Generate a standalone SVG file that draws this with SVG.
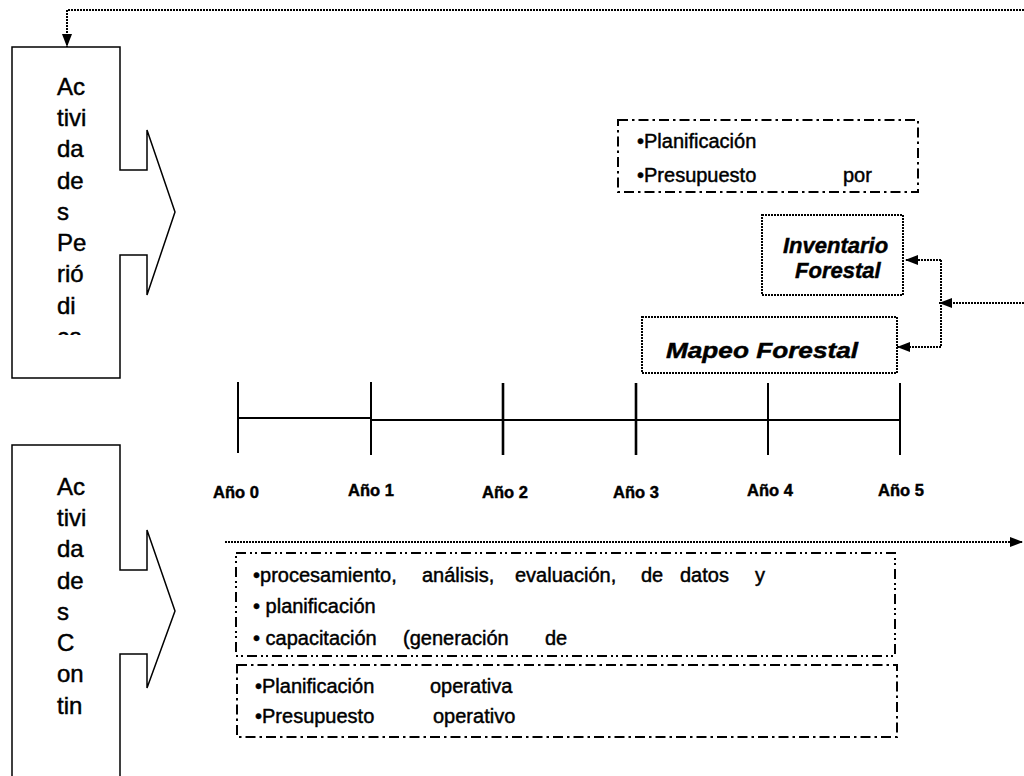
<svg xmlns="http://www.w3.org/2000/svg" width="1024" height="776" viewBox="0 0 1024 776">
<style>
text{font-family:"Liberation Sans",Arial,sans-serif;fill:#000;stroke:#000;stroke-width:0.45}
.big{font-size:24px}
.box{font-size:20px}
.yr{font-size:16.5px;font-weight:bold}
.bi{font-size:22px;font-weight:bold;font-style:italic}
.shape{fill:#fff;stroke:#000;stroke-width:1.5}
.dot{fill:none;stroke:#000;stroke-width:2;stroke-dasharray:2 1}
.dashdot{fill:none;stroke:#000;stroke-width:2;stroke-dasharray:10 4 2.5 4}
.dashdotdot{fill:none;stroke:#000;stroke-width:2;stroke-dasharray:10 4 2 3 2 4}
.tl{fill:none;stroke:#000;stroke-width:2}
</style>
<defs>
<marker id="ah" viewBox="0 0 13 10" refX="13" refY="5" markerWidth="13" markerHeight="10" markerUnits="userSpaceOnUse" orient="auto">
<path d="M0,0 L13,5 L0,10 Z" fill="#000" stroke="none"/>
</marker>
<clipPath id="clipTop"><rect x="12" y="47" width="108" height="288"/></clipPath>
</defs>
<rect width="1024" height="776" fill="#fff"/>

<g id="periodicas">
<path class="shape" d="M12,47 H120 V170 H147 V130 L175,212 L147,295 V255 H120 V378 H12 Z"/>
<g clip-path="url(#clipTop)" class="big">
<text x="57" y="95">Ac</text>
<text x="57" y="126">tivi</text>
<text x="57" y="157">da</text>
<text x="57" y="189">de</text>
<text x="57" y="220">s</text>
<text x="57" y="251">Pe</text>
<text x="57" y="282">rió</text>
<text x="57" y="314">di</text>
<text x="57" y="345">ca</text>
</g>
</g>

<g id="continuas">
<path class="shape" d="M12,445 H120 V570 H147 V530 L175,611 L147,688 V654 H120 V780 H12 Z"/>
<g class="big">
<text x="57" y="495">Ac</text>
<text x="57" y="526">tivi</text>
<text x="57" y="557">da</text>
<text x="57" y="589">de</text>
<text x="57" y="620">s</text>
<text x="57" y="651">C</text>
<text x="57" y="682">on</text>
<text x="57" y="714">tin</text>
</g>
</g>

<g id="planificacion-top">
<rect class="dashdot" x="618" y="120" width="300" height="72"/>
<g class="box">
<text x="637" y="148">•Planificación</text>
<text x="637" y="182">•Presupuesto</text>
<text x="843" y="182">por</text>
</g>
</g>

<g id="inventario">
<rect class="dot" x="762" y="215" width="141" height="80"/>
<text class="bi" x="783" y="253">Inventario</text>
<text class="bi" x="795" y="278">Forestal</text>
</g>

<g id="mapeo">
<rect class="dot" x="642" y="317" width="255" height="56"/>
<text class="bi" x="666" y="358" textLength="192" lengthAdjust="spacingAndGlyphs">Mapeo Forestal</text>
</g>

<g id="timeline">
<path class="tl" d="M238,418 H371 M371,420 H900"/>
<path class="tl" d="M238,382 V453 M371,382 V455 M768,383 V455 M900,383 V455"/>
<path class="tl" style="stroke-width:2.6" d="M503,383 V455 M636,383 V455"/>
<g class="yr">
<text x="213" y="498">Año 0</text>
<text x="348" y="496">Año 1</text>
<text x="482" y="498">Año 2</text>
<text x="613" y="498">Año 3</text>
<text x="747" y="496">Año 4</text>
<text x="878" y="496">Año 5</text>
</g>
</g>

<g id="procesamiento">
<rect class="dashdotdot" x="236" y="553" width="659" height="103"/>
<g class="box">
<text x="253" y="582">•procesamiento,</text>
<text x="422" y="582">análisis,</text>
<text x="515" y="582">evaluación,</text>
<text x="641" y="582">de</text>
<text x="680" y="582">datos</text>
<text x="755" y="582">y</text>
<text x="253" y="613">• planificación</text>
<text x="253" y="645">• capacitación</text>
<text x="403" y="645">(generación</text>
<text x="545" y="645">de</text>
</g>
</g>

<g id="operativa">
<rect class="dashdot" x="237" y="665" width="660" height="72"/>
<g class="box">
<text x="255" y="693">•Planificación</text>
<text x="430" y="693">operativa</text>
<text x="255" y="723">•Presupuesto</text>
<text x="433" y="723">operativo</text>
</g>
</g>

<g id="connectors">
<path class="dot" d="M1024,10 H67 V47" marker-end="url(#ah)"/>
<path class="dot" d="M1024,303 H939" marker-end="url(#ah)"/>
<path class="dot" d="M941,260 V347"/>
<path class="dot" d="M941,260 H905" marker-end="url(#ah)"/>
<path class="dot" d="M941,347 H897" marker-end="url(#ah)"/>
<path class="dot" d="M225,542 H1023" marker-end="url(#ah)"/>
</g>
</svg>
